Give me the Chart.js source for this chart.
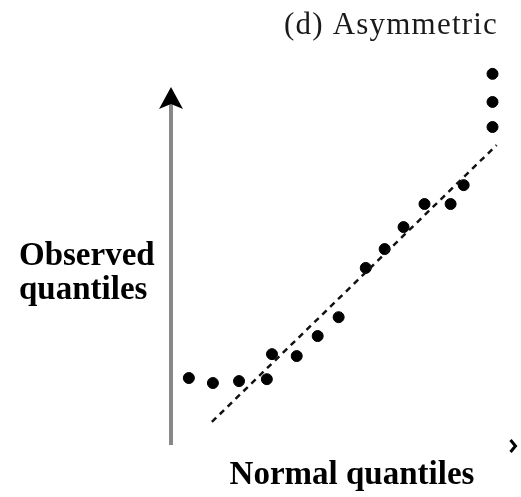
<!DOCTYPE html>
<html>
<head>
<meta charset="utf-8">
<script src="https://cdn.jsdelivr.net/npm/chart.js@4"></script>
<style>
	html, body { margin: 0; padding: 0; background: #fff; }
	#wrap { width: 521px; height: 497px; position: relative; }
</style>
</head>
<body>
<div id="wrap"><canvas id="chart-qq"></canvas></div>
<script>
'use strict';

// Data

var normalQuantiles   = [0.52, 1.22, 1.98, 2.79, 2.94, 3.66, 4.27, 4.88, 5.67, 6.22, 6.77, 7.38, 8.14, 8.52, 9.36, 9.36, 9.36];
var observedQuantiles = [1.74, 1.61, 1.66, 1.71, 2.36, 2.31, 2.83, 3.32, 4.60, 5.09, 5.66, 6.26, 6.26, 6.75, 8.26, 8.91, 9.64];
var refLineX = [1.19, 9.48];
var refLineY = [0.60, 7.79];

var titleText = '(d) Asymmetric';
var yLabelLines = ['Observed', 'quantiles'];
var xLabelText = 'Normal quantiles';

function pairs(xs, ys) {
	return xs.map(function(x, i) { return { x: x, y: ys[i] }; });
}

// Arrows and labels

var decorations = {
	id: 'decorations',
	beforeDatasetsDraw: function(chart) {
		var ctx = chart.ctx;
		var area = chart.chartArea;
		ctx.save();

		// vertical axis arrow
		ctx.strokeStyle = '#888';
		ctx.lineWidth = 4;
		ctx.beginPath();
		ctx.moveTo(area.left, area.bottom);
		ctx.lineTo(area.left, area.top + 40);
		ctx.stroke();
		ctx.fillStyle = '#000';
		ctx.beginPath();
		ctx.moveTo(area.left, area.top + 27);
		ctx.lineTo(area.left - 12, area.top + 49);
		ctx.lineTo(area.left, area.top + 44);
		ctx.lineTo(area.left + 12, area.top + 49);
		ctx.closePath();
		ctx.fill();

		// tip of the horizontal axis arrow
		ctx.strokeStyle = '#000';
		ctx.lineWidth = 3;
		ctx.beginPath();
		ctx.moveTo(area.right - 4, area.bottom - 5);
		ctx.lineTo(area.right + 1, area.bottom + 1);
		ctx.lineTo(area.right - 4, area.bottom + 7);
		ctx.stroke();

		// texts
		ctx.fillStyle = '#1a1a1a';
		ctx.textBaseline = 'alphabetic';
		ctx.textAlign = 'right';
		ctx.font = '31px "Liberation Serif"';
		ctx.letterSpacing = '1.2px';
		ctx.fillText(titleText, 498, 34);
		ctx.letterSpacing = '0px';

		ctx.fillStyle = '#000';
		ctx.textAlign = 'left';
		ctx.font = 'bold 33px "Liberation Serif"';
		ctx.fillText(yLabelLines[0], 19, 265);
		ctx.fillText(yLabelLines[1], 19, 299);

		ctx.textAlign = 'center';
		ctx.font = 'bold 33px "Liberation Serif"';
		ctx.fillText(xLabelText, 352, 484);

		ctx.restore();
	}
};

var qqChart = new Chart(document.getElementById('chart-qq'), {
	type: 'scatter',
	data: {
		datasets: [{
			label: 'Reference line',
			type: 'line',
			data: pairs(refLineX, refLineY),
			borderColor: '#111',
			borderWidth: 2.5,
			borderDash: [6, 5],
			pointRadius: 0,
			fill: false
		}, {
			label: 'Sample',
			data: pairs(normalQuantiles, observedQuantiles),
			backgroundColor: '#000',
			borderColor: '#000',
			pointRadius: 5.5,
			pointHoverRadius: 5.5
		}]
	},
	options: {
		responsive: true,
		maintainAspectRatio: false,
		animation: false,
		layout: {
			padding: { left: 171, right: 6, top: 60, bottom: 52 }
		},
		plugins: {
			legend: { display: false },
			tooltip: { enabled: false }
		},
		scales: {
			x: { type: 'linear', min: 0, max: 10, display: false },
			y: { type: 'linear', min: 0, max: 10, display: false }
		}
	},
	plugins: [decorations]
});
</script>
</body>
</html>
